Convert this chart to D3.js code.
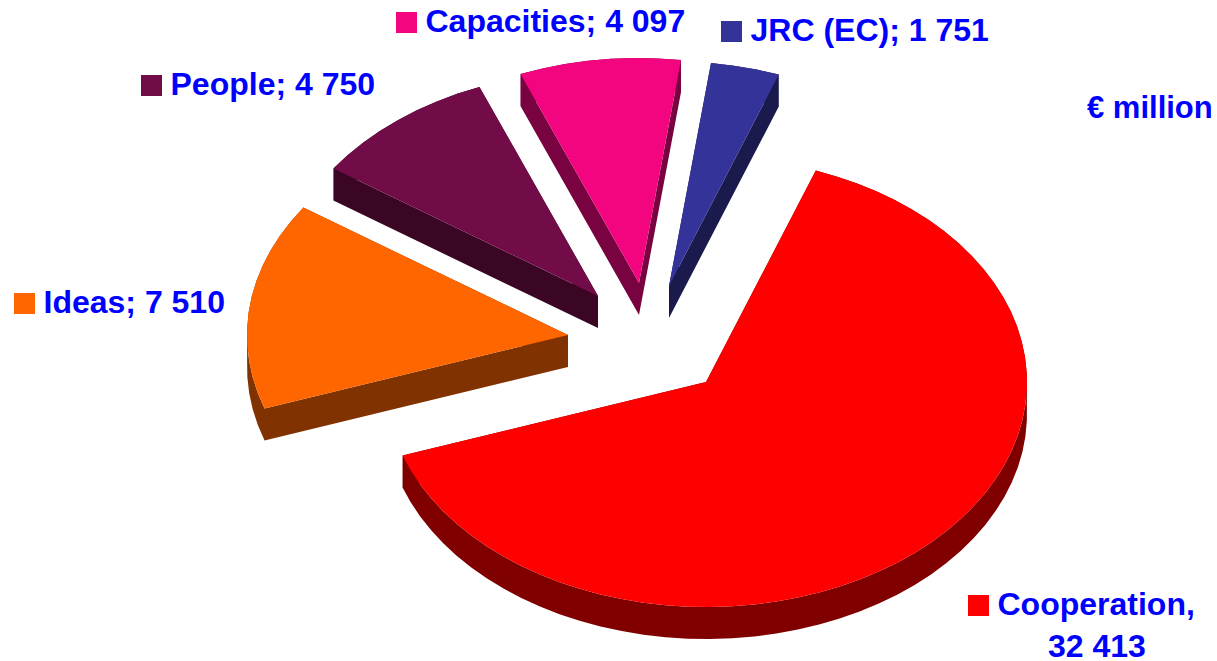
<!DOCTYPE html>
<html>
<head>
<meta charset="utf-8">
<script src="https://d3js.org/d3.v7.min.js"></script>
<style>
  html, body { margin: 0; padding: 0; background: #fff; }
  text { font-family: "Liberation Sans", Arial, sans-serif; font-weight: 700; fill: #0000ff; }
</style>
</head>
<body>
<div id="chart"></div>
<script>
var categories = ["Cooperation", "Ideas", "People", "Capacities", "JRC (EC)"];
var values = [32413, 7510, 4750, 4097, 1751];
var valueLabels = ["32 413", "7 510", "4 750", "4 097", "1 751"];
var unitLabel = "€ million";

var width = 1217, height = 661;
var centre = {x: 706, y: 382},
    radiusX = 321,
    radiusY = 225,
    depth = 32,
    facet = 4 * Math.PI / 180;

// how far each wedge is pulled out from the main one
var explode = {
  "Cooperation": [0, 0],
  "Ideas": [-138, -47],
  "People": [-108, -86],
  "Capacities": [-67, -99],
  "JRC (EC)": [-37, -96]
};

// legend anchors: square left/top
var legendPos = {
  "Cooperation": [968, 595],
  "Ideas": [14, 293],
  "People": [141, 75],
  "Capacities": [396, 12],
  "JRC (EC)": [721, 21]
};

var topColor = d3.scaleOrdinal()
  .domain(categories)
  .range(["#ff0000", "#ff6600", "#720c48", "#f2057f", "#333399"]);
var sideColor = d3.scaleOrdinal()
  .domain(categories)
  .range(["#800000", "#803300", "#3a0624", "#780340", "#1a1a4d"]);

var svg = d3.select("#chart")
  .append("svg")
    .attr("width", width)
    .attr("height", height)
    .style("display", "block");

var pie = d3.pie()
  .sort(null)
  .startAngle(20 * Math.PI / 180)
  .endAngle(380 * Math.PI / 180);

var arcs = pie(values).map(function(d, i) {
  d.name = categories[i];
  d.label = valueLabels[i];
  return d;
});

// wedge outline on the flattened ellipse
function outline(d) {
  var off = explode[d.name],
      cx = centre.x + off[0],
      cy = centre.y + off[1],
      pts = [[cx, cy]],
      n = Math.max(1, Math.round((d.endAngle - d.startAngle) / facet));
  d3.range(n + 1).forEach(function(k) {
    var a = d.startAngle + (d.endAngle - d.startAngle) * k / n;
    pts.push([cx + radiusX * Math.sin(a), cy - radiusY * Math.cos(a)]);
  });
  return pts;
}

var line = d3.line();

// all wall quads of a wedge in one path, same winding, so no seams show
function walls(d) {
  var pts = outline(d);
  return pts.map(function(p, i) {
    var q = pts[(i + 1) % pts.length],
        quad = [p, q, [q[0], q[1] + depth], [p[0], p[1] + depth]];
    if (d3.polygonArea(quad) < 0) quad.reverse();
    return line(quad) + "Z";
  }).join("");
}

var wedges = svg.append("g")
  .selectAll("g")
  .data(arcs)
  .enter().append("g");

wedges.append("path")
  .attr("d", walls)
  .attr("fill", function(d) { return sideColor(d.name); });

wedges.append("path")
  .attr("d", function(d) { return line(outline(d)) + "Z"; })
  .attr("fill", function(d) { return topColor(d.name); });

var legend = svg.append("g")
  .selectAll("g")
  .data(arcs)
  .enter().append("g")
    .attr("transform", function(d) {
      return "translate(" + legendPos[d.name][0] + "," + legendPos[d.name][1] + ")";
    });

legend.append("rect")
  .attr("width", 21)
  .attr("height", 21)
  .attr("fill", function(d) { return topColor(d.name); });

legend.append("text")
  .attr("x", 29.5)
  .attr("y", 20)
  .style("font-size", "32px")
  .each(function(d) {
    var t = d3.select(this);
    if (d.name === "Cooperation") {
      t.append("tspan").text(d.name + ",");
      t.append("tspan").attr("x", 80).attr("y", 62).text(d.label);
    } else {
      t.text(d.name + "; " + d.label);
    }
  });

svg.append("text")
  .attr("x", 1087)
  .attr("y", 118)
  .style("font-size", "31px")
  .text(unitLabel);
</script>
</body>
</html>
